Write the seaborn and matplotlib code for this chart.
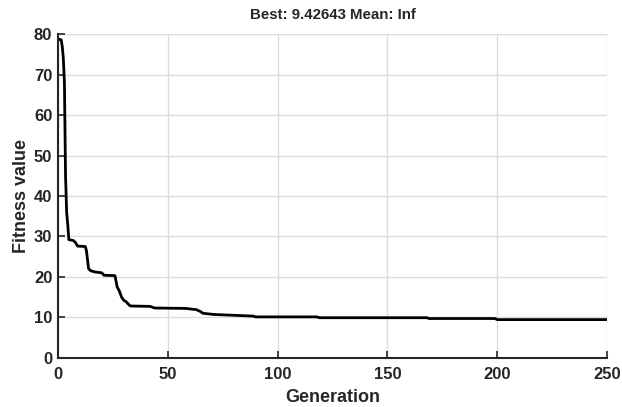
import numpy as np
import pandas as pd
import seaborn as sns
import matplotlib.pyplot as plt

# best fitness per generation
generation = [0, 1.5, 2, 2.5, 3, 3.5, 4, 4.5, 5, 7, 8, 9, 12.5, 13, 14, 15, 17, 20, 21, 26,
              27, 28, 29, 30, 31, 32, 33, 42, 44, 58, 63, 65, 66, 71, 80, 89, 90, 118, 119,
              168, 169, 199, 200, 250]
best_value = [78.8, 78.6, 77, 74, 68, 45, 36, 33, 29.2, 29, 28.5, 27.6, 27.5, 26.5, 22, 21.5,
              21.2, 21, 20.4, 20.3, 17.5, 16.5, 15, 14.2, 13.9, 13.3, 12.8, 12.7, 12.3, 12.2,
              11.9, 11.4, 11.0, 10.7, 10.5, 10.3, 10.1, 10.1, 9.9, 9.9, 9.7, 9.7, 9.43, 9.43]
x_ticks = [0, 50, 100, 150, 200, 250]
y_ticks = [0, 10, 20, 30, 40, 50, 60, 70, 80]

df = pd.DataFrame({"Generation": generation, "Fitness value": best_value})

sns.set_style("whitegrid")
plt.rcParams['font.family'] = ['Liberation Sans', 'DejaVu Sans']

fig = plt.figure(figsize=(6.22, 4.07), dpi=100)
ax = fig.add_axes([0.093, 0.121, 0.883, 0.795])

sns.lineplot(data=df, x="Generation", y="Fitness value", color="black",
             linewidth=2.0, sort=False, estimator=None, ax=ax)

ax.set_xlim(0, 250)
ax.set_ylim(0, 80)
ax.set_xticks(x_ticks)
ax.set_yticks(y_ticks)
ax.grid(True, color="#dcdcdc", linewidth=1.0)

for s in ["top", "right"]:
    ax.spines[s].set_visible(False)
for s in ["left", "bottom"]:
    ax.spines[s].set_visible(True)
    ax.spines[s].set_color("#262626")
    ax.spines[s].set_linewidth(1.5)

ax.tick_params(direction="in", length=5, width=1.2, color="#262626",
               bottom=True, left=True, labelsize=12, labelcolor="#262626")
ax.tick_params(axis="x", pad=7)
ax.tick_params(axis="y", pad=4)
for lbl in ax.get_xticklabels() + ax.get_yticklabels():
    lbl.set_fontweight("bold")

ax.set_xlabel("Generation", fontsize=13, fontweight="bold", color="#262626", labelpad=5)
ax.set_ylabel("Fitness value", fontsize=13, fontweight="bold", color="#262626", labelpad=3)
ax.set_title("Best: 9.42643 Mean: Inf", fontsize=10.8, fontweight="bold", color="#262626", pad=11)

fig.savefig("out.png", dpi=100)
